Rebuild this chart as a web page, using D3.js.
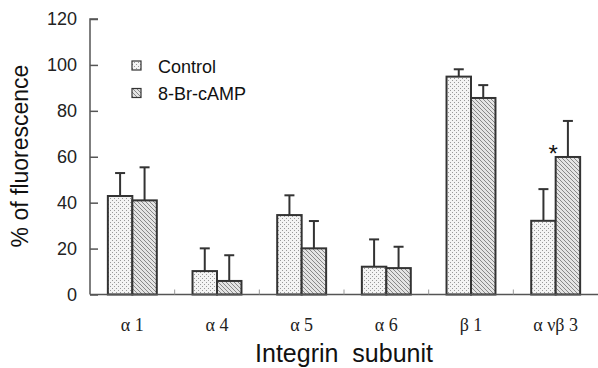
<!DOCTYPE html>
<html><head><meta charset="utf-8">
<script src="https://cdn.jsdelivr.net/npm/d3@7"></script>
<style>body{margin:0;background:#fff}svg{display:block}</style>
</head><body>
<svg id="c" width="598" height="368"></svg>
<script>
const categories = ["\u03B1 1", "\u03B1 4", "\u03B1 5", "\u03B1 6", "\u03B2 1", "\u03B1 \u03BD\u03B2 3"];
const seriesNames = ["Control", "8-Br-cAMP"];
const controlValues = [42.9, 10.2, 34.6, 12.1, 94.9, 32.1];
const controlErrors = [10.0, 9.9, 8.6, 11.9, 3.2, 13.8];
const campValues = [41.0, 5.9, 20.1, 11.5, 85.6, 59.9];
const campErrors = [14.4, 11.2, 11.9, 9.3, 5.6, 15.7];
const yTicks = [0, 20, 40, 60, 80, 100, 120];
const significant = [false, false, false, false, false, true];

(function () {
const svg = d3.select("#c");
const mLeft = 90, mRight = 598, mTop = 19, mBottom = 294.5;
const x = d3.scaleBand().domain(categories).range([mLeft, mRight]).paddingInner(0).paddingOuter(0);
const xs = d3.scaleBand().domain(seriesNames).range([0, x.bandwidth()]).paddingInner(0).paddingOuter(0.73);
const y = d3.scaleLinear().domain([0, 120]).range([mBottom, mTop]);

const defs = svg.append("defs");
const dots = defs.append("pattern").attr("id", "dots").attr("patternUnits", "userSpaceOnUse")
  .attr("width", 4).attr("height", 4);
dots.append("rect").attr("width", 4).attr("height", 4).attr("fill", "#f4f4f4");
dots.append("rect").attr("x", 0).attr("y", 0).attr("width", 1).attr("height", 1).attr("fill", "#999");
dots.append("rect").attr("x", 2).attr("y", 2).attr("width", 1).attr("height", 1).attr("fill", "#999");
const hatch = defs.append("pattern").attr("id", "hatch").attr("patternUnits", "userSpaceOnUse")
  .attr("width", 4).attr("height", 4);
hatch.append("rect").attr("width", 4).attr("height", 4).attr("fill", "#e4e4e4");
hatch.append("path").attr("d", "M-1,-1 L5,5 M-1,3 L1,5 M3,-1 L5,1").attr("stroke", "#888").attr("stroke-width", 1);
const fills = ["url(#dots)", "url(#hatch)"];

const data = categories.map((c, i) => ({
  cat: c,
  vals: [
    {s: seriesNames[0], v: controlValues[i], e: controlErrors[i]},
    {s: seriesNames[1], v: campValues[i], e: campErrors[i]}
  ],
  sig: significant[i]
}));

const eb = svg.append("g").attr("stroke", "#333").attr("stroke-width", 2);
data.forEach(d => {
  d.vals.forEach(v => {
    const cx = x(d.cat) + xs(v.s) + xs.bandwidth() / 2;
    eb.append("line").attr("x1", cx).attr("x2", cx).attr("y1", y(v.v)).attr("y2", y(v.v + v.e));
    eb.append("line").attr("x1", cx - 5).attr("x2", cx + 5).attr("y1", y(v.v + v.e)).attr("y2", y(v.v + v.e));
  });
});

data.forEach(d => {
  d.vals.forEach((v, j) => {
    svg.append("rect")
      .attr("x", x(d.cat) + xs(v.s)).attr("y", y(v.v))
      .attr("width", xs.bandwidth()).attr("height", y(0) - y(v.v))
      .attr("fill", fills[j]).attr("stroke", "#333").attr("stroke-width", 2);
  });
  if (d.sig) {
    const v = d.vals[1];
    svg.append("text").attr("x", x(d.cat) + xs(v.s) - 2.5).attr("y", y(v.v) + 5.5)
      .attr("text-anchor", "middle").attr("font-family", "Liberation Sans, Arial, sans-serif")
      .attr("font-size", 24).attr("fill", "#111").text("*");
  }
});

const yAxis = svg.append("g").attr("transform", `translate(${mLeft},0)`)
  .call(d3.axisRight(y).tickValues(yTicks).tickSize(8).tickFormat(""));
yAxis.select(".domain").attr("stroke", "#555").attr("stroke-width", 1.5).attr("d", `M8,${mTop}H0V${mBottom}`);
yAxis.selectAll(".tick line").attr("stroke", "#555").attr("stroke-width", 1.5);
svg.append("g").selectAll("text").data(yTicks).join("text")
  .attr("x", 77).attr("y", d => y(d)).attr("dy", "0.36em").attr("text-anchor", "end")
  .attr("font-family", "Liberation Sans, Arial, sans-serif").attr("font-size", 18).attr("fill", "#222")
  .text(d => d);

const xAxis = svg.append("g").attr("transform", `translate(0,${mBottom})`)
  .call(d3.axisTop(x).tickSize(0).tickFormat(""));
xAxis.select(".domain").attr("stroke", "#555").attr("stroke-width", 1.5).attr("d", `M${mLeft},0H${mRight}`);
xAxis.selectAll(".tick").remove();
svg.append("g").selectAll("line").data(categories.slice(1)).join("line")
  .attr("x1", d => x(d)).attr("x2", d => x(d)).attr("y1", mBottom).attr("y2", mBottom - 5)
  .attr("stroke", "#999").attr("stroke-width", 1);
svg.append("g").selectAll("text").data(categories).join("text")
  .attr("x", d => x(d) + x.bandwidth() / 2).attr("y", 331).attr("text-anchor", "middle")
  .attr("font-family", "Liberation Serif, Times New Roman, serif").attr("font-size", 18).attr("fill", "#222")
  .text(d => d);

svg.append("text").attr("x", 344).attr("y", 362).attr("text-anchor", "middle")
  .attr("font-family", "Liberation Sans, Arial, sans-serif").attr("font-size", 25).attr("fill", "#111")
  .attr("xml:space", "preserve").style("white-space", "pre").text("Integrin  subunit");
svg.append("text").attr("transform", "translate(28,156) rotate(-90)").attr("text-anchor", "middle")
  .attr("font-family", "Liberation Sans, Arial, sans-serif").attr("font-size", 23).attr("fill", "#111")
  .text("% of fluorescence");

const lg = svg.append("g");
seriesNames.forEach((s, i) => {
  lg.append("rect").attr("x", 132).attr("y", 61 + i * 27.5).attr("width", 9).attr("height", 9)
    .attr("fill", fills[i]).attr("stroke", "#333").attr("stroke-width", 1.2);
  lg.append("text").attr("x", 158).attr("y", 72.5 + i * 27.5)
    .attr("font-family", "Liberation Sans, Arial, sans-serif").attr("font-size", 18).attr("fill", "#111")
    .text(s);
});
})();
</script>
</body></html>
